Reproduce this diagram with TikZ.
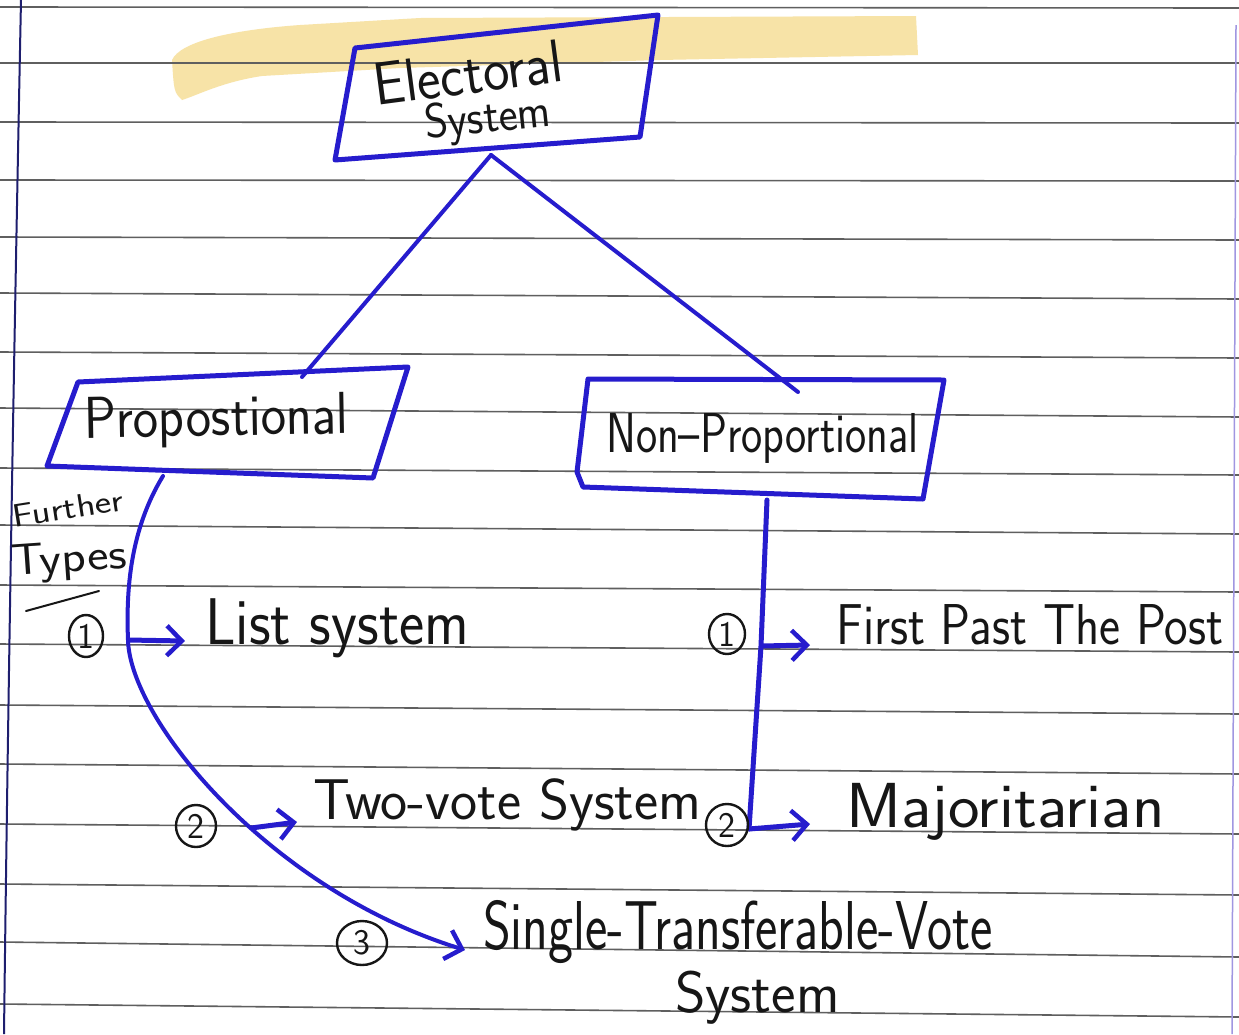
\documentclass[tikz,border=0pt]{standalone}
\usepackage{fontspec}
\usepackage{graphicx}
\usetikzlibrary{arrows.meta,shapes.geometric}
\definecolor{pen}{RGB}{38,28,205}
\definecolor{ink}{RGB}{22,22,22}
\definecolor{ruleclr}{RGB}{95,95,95}
\definecolor{hlclr}{RGB}{247,224,158}
\definecolor{marginclr}{RGB}{30,30,110}
\definecolor{rmarginclr}{RGB}{160,150,225}
\newcommand{\hwt}[2]{\scalebox{1}[#1]{#2}}
\newcommand{\cnum}[1]{\fontsize{36}{36}\selectfont #1}
\begin{document}
\begin{tikzpicture}[x=1pt,y=-1pt,
  boxline/.style={draw=pen, line width=5pt, line join=round},
  conn/.style={draw=pen, line width=4pt, line cap=round, line join=round},
  arr/.style={draw=pen, line width=5pt, -{Straight Barb[length=15pt,width=30pt,line width=4.5pt]}},
  hand/.style={text=ink, inner sep=0pt, anchor=base west},
  num/.style={draw=ink, line width=2.4pt, ellipse, inner sep=0pt, text=ink, font=\sffamily},
  ruled/.style={draw=ruleclr, line width=1.6pt}]
\useasboundingbox (0,0) rectangle (1239,1034);
\fill[white] (0,0) rectangle (1239,1034);
% highlight
\fill[hlclr, opacity=0.9] (172,60) .. controls (180,42) and (230,30) .. (300,25) -- (420,18) -- (916,16) -- (918,55) -- (660,60) -- (400,68) -- (262,76) .. controls (222,82) and (198,95) .. (182,100) .. controls (174,92) .. cycle;
% ruled lines
\foreach \a/\b in {7/8,63/63,122/123,180/181,237/240,293/299,352/358,408/417,468/475,525/534,585/592,644/652,705/714,764/774,824/834,884/895,942/957,1004/1017}
  \draw[ruled] (0,\a) -- (1239,\b);
% margins
\draw[marginclr, line width=2pt] (21,0) .. controls (14,350) and (8,700) .. (4,1034);
\draw[rmarginclr, line width=1.5pt] (1236,25) -- (1232,1034);
% boxes
\draw[boxline] (355,48) -- (658,15) -- (640,137) -- (335,160) -- cycle;
\draw[boxline] (78,382) -- (408,367) -- (373,478) -- (47,466) -- cycle;
\draw[boxline] (588,379) -- (944,380) -- (923,499) -- (583,487) -- (577,472) -- cycle;
% coordinates
\coordinate (apex) at (491,155);
\coordinate (proptop) at (302,377);
\coordinate (nptop) at (798,392);
\coordinate (propbot) at (163,476);
\coordinate (c1) at (128,640);
\coordinate (c2) at (251,828);
\coordinate (a1) at (185,641);
\coordinate (a2) at (297,822);
\coordinate (a3) at (465,950);
\coordinate (npbot) at (767,500);
\coordinate (r1) at (761,646);
\coordinate (r2) at (749,829);
\coordinate (b1) at (810,645);
\coordinate (b2) at (810,824);
% connectors
\draw[conn] (apex) -- (proptop);
\draw[conn] (apex) -- (nptop);
\draw[conn] (propbot) .. controls (130,530) and (126,590) .. (c1);
\draw[conn, -{Straight Barb[length=15pt,width=30pt,line width=4.5pt]}] (c1) .. controls (130,720) and (270,890) .. (a3);
\draw[arr] (c1) -- (a1);
\draw[arr] (c2) -- (a2);
\draw[conn, line width=5pt] (npbot) -- (r1) -- (r2);
\draw[arr] (r1) -- (b1);
\draw[arr] (r2) -- (b2);
% texts
\node[hand, rotate=7.5, font=\sffamily\fontsize{56}{56}\selectfont] (t-elect) at (376,106) {\hwt{1.08}{Electoral}};
\node[hand, rotate=6, font=\sffamily\fontsize{45}{45}\selectfont] (t-esys) at (426,139) {\hwt{1.08}{System}};
\node[hand, rotate=1, font=\sffamily\fontsize{53.8}{53.8}\selectfont] (t-prop) at (84,438) {\hwt{1.1}{Propostional}};
\node[hand, font=\sffamily\fontsize{45}{45}\selectfont] (t-np) at (606,452) {\hwt{1.25}{Non–Proportional}};
\node[hand, rotate=9, font=\sffamily\fontsize{34}{34}\selectfont] (t-further) at (14,528) {\scalebox{1.15}[0.95]{Further}};
\node[hand, rotate=4, font=\sffamily\fontsize{44}{44}\selectfont] (t-types) at (12,576) {\scalebox{1.15}[1]{Types}};
\draw[ink, line width=2pt, line cap=round] (26,611) -- (99,591);
\node[hand, font=\sffamily\fontsize{60}{60}\selectfont] (t-list) at (205,644) {\hwt{1.1}{List system}};
\node[hand, font=\sffamily\fontsize{57.5}{57.5}\selectfont] (t-two) at (313,819) {Two-vote System};
\node[hand, font=\sffamily\fontsize{53.2}{53.2}\selectfont] (t-stv) at (483,949) {\hwt{1.3}{Single-Transferable-Vote}};
\node[hand, font=\sffamily\fontsize{58.4}{58.4}\selectfont] (t-stv2) at (675,1012) {System};
\node[hand, font=\sffamily\fontsize{50.1}{50.1}\selectfont] (t-fptp) at (836,644) {\hwt{1.15}{First Past The Post}};
\node[hand, font=\sffamily\fontsize{67}{67}\selectfont] (t-maj) at (846,827) {\hwt{0.95}{Majoritarian}};
% circled numbers
\node[num, minimum width=34pt, minimum height=42pt] (n1l) at (86,636) {\cnum{1}};
\node[num, minimum width=40pt, minimum height=42pt] (n2l) at (196,826) {\cnum{2}};
\node[num, minimum width=50pt, minimum height=44pt] (n3l) at (362,943) {\cnum{3}};
\node[num, minimum width=36pt, minimum height=40pt] (n1r) at (727,634) {\cnum{1}};
\node[num, minimum width=42pt, minimum height=42pt] (n2r) at (727,825) {\cnum{2}};
\end{tikzpicture}
\end{document}
